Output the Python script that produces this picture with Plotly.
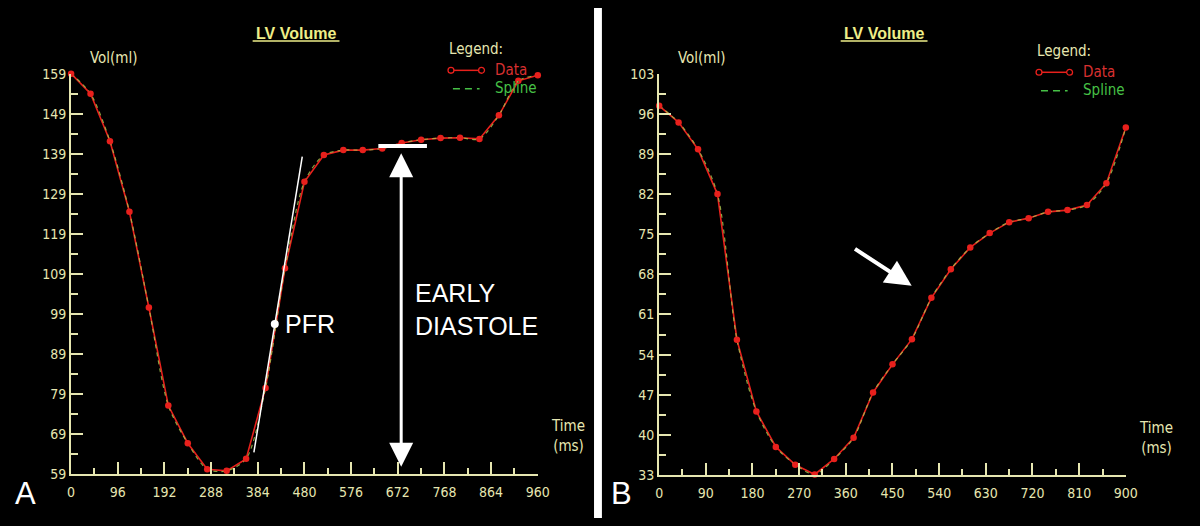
import re
import plotly.graph_objects as go

# ---------------- data ----------------
# Panel A
time_a = [0, 40, 80, 120, 160, 200, 240, 280, 320, 360, 400, 440, 480,
          520, 560, 600, 640, 680, 720, 760, 800, 840, 880, 920, 960]
vol_a = [159.0, 154.0, 142.1, 124.5, 100.6, 76.1, 66.7, 60.2, 59.8, 62.8,
         80.5, 110.4, 132.0, 138.7, 139.9, 139.9, 140.3, 141.7, 142.5, 142.9,
         143.0, 142.7, 148.6, 157.2, 158.6]
xticks_a = [0, 96, 192, 288, 384, 480, 576, 672, 768, 864, 960]
yticks_a = [59, 69, 79, 89, 99, 109, 119, 129, 139, 149, 159]

# Panel B
time_b = [0, 37.5, 75, 112.5, 150, 187.5, 225, 262.5, 300, 337.5, 375, 412.5,
          450, 487.5, 525, 562.5, 600, 637.5, 675, 712.5, 750, 787.5, 825,
          862.5, 900]
vol_b = [97.4, 94.5, 89.8, 82.0, 56.6, 44.1, 37.9, 34.8, 33.1, 35.8, 39.5,
         47.4, 52.3, 56.7, 63.9, 68.9, 72.7, 75.2, 77.1, 77.8, 78.9, 79.2,
         80.1, 83.9, 93.6]
xticks_b = [0, 90, 180, 270, 360, 450, 540, 630, 720, 810, 900]
yticks_b = [33, 40, 47, 54, 61, 68, 75, 82, 89, 96, 103]

# annotations (data coordinates)
pfr_line_t = [376, 475.5]
pfr_line_v = [64.4, 138.3]
pfr_point = (419, 96.5)
early_bar_t = [632, 732]
early_bar_v = 140.9
early_arrow_t = 679
early_arrow_v = [60.8, 139.5]
arrow_b_tail = (374.8, 72.6)
arrow_b_tip = (487, 66.0)

# ---------------- styling helpers ----------------
W, H = 1200, 526


def fx(p):
    return p / W


def fy(p):
    return 1 - p / H


AX = "#e6e6b0"
TITLE = "#eeee88"
RED = "#e8201c"
GREEN = "#46c046"
SPL = "#a8c850"
TICKFONT = dict(family="Liberation Sans Narrow, DejaVu Sans Condensed, sans-serif",
                size=14, color=AX)
LBLFONT = dict(family="Liberation Sans Narrow, DejaVu Sans Condensed, sans-serif",
               size=15, color=AX)
BIG = dict(family="Liberation Sans, Arial, sans-serif", size=25, color="white")

fig = go.Figure()

for t, v, xa, ya in [(time_a, vol_a, "x", "y"), (time_b, vol_b, "x2", "y2")]:
    fig.add_trace(go.Scatter(x=t, y=v, xaxis=xa, yaxis=ya, mode="lines",
                             line=dict(color=RED, width=1.6),
                             cliponaxis=False, showlegend=False))
    fig.add_trace(go.Scatter(x=t, y=v, xaxis=xa, yaxis=ya, mode="lines",
                             line=dict(color=SPL, width=1.2, dash="4px,4px",
                                       shape="spline", smoothing=0.8),
                             opacity=0.8, cliponaxis=False, showlegend=False))
    fig.add_trace(go.Scatter(x=t, y=v, xaxis=xa, yaxis=ya, mode="markers",
                             marker=dict(color=RED, size=6.5),
                             cliponaxis=False, showlegend=False))

# PFR tangent and point
fig.add_trace(go.Scatter(x=pfr_line_t, y=pfr_line_v, xaxis="x", yaxis="y",
                         mode="lines", line=dict(color="white", width=1.5),
                         showlegend=False))
fig.add_trace(go.Scatter(x=[pfr_point[0]], y=[pfr_point[1]], xaxis="x", yaxis="y",
                         mode="markers", marker=dict(color="white", size=8),
                         showlegend=False))
# early diastole bar
fig.add_trace(go.Scatter(x=early_bar_t, y=[early_bar_v, early_bar_v], xaxis="x",
                         yaxis="y", mode="lines", line=dict(color="white", width=4),
                         showlegend=False))


def axis_common():
    return dict(showline=True, linecolor=AX, linewidth=2, showgrid=False,
                zeroline=False, ticks="inside", tickcolor=AX, tickwidth=1.5,
                tickfont=TICKFONT, fixedrange=True)


xa = axis_common()
xa.update(domain=[fx(68), fx(541)], range=[0, 960], tickmode="linear", tick0=0,
          dtick=96, ticklen=12, anchor="y", ticklabelstandoff=4,
          minor=dict(ticks="inside", ticklen=6, tick0=0, dtick=48,
                     tickcolor=AX, tickwidth=1.5))
ya = axis_common()
ya.update(domain=[fy(480.7), fy(67.7)], range=[59, 159], tickmode="linear",
          tick0=59, dtick=10, ticklen=12, anchor="x",
          minor=dict(ticks="inside", ticklen=7, tick0=59, dtick=5,
                     tickcolor=AX, tickwidth=1.5))
xb = axis_common()
xb.update(domain=[fx(664), fx(1137)], range=[0, 900], tickmode="linear", tick0=0,
          dtick=90, ticklen=12, anchor="y2", ticklabelstandoff=4,
          minor=dict(ticks="inside", ticklen=6, tick0=0, dtick=45,
                     tickcolor=AX, tickwidth=1.5))
yb = axis_common()
yb.update(domain=[fy(481.7), fy(67.7)], range=[33, 103], tickmode="linear",
          tick0=33, dtick=7, ticklen=12, anchor="x2",
          minor=dict(ticks="inside", ticklen=7, tick0=33, dtick=3.5,
                     tickcolor=AX, tickwidth=1.5))

shapes = []
annotations = []

# white divider
shapes.append(dict(type="rect", xref="paper", yref="paper", x0=fx(598), x1=fx(606),
                   y0=0, y1=1, fillcolor="white", line=dict(width=0), layer="above"))

for off, title_c, time_x, time_y, legend_dy in [(0, 296, 572, 433, 0),
                                                 (596, 892, 1168, 435, 2)]:
    # title with underline
    annotations.append(dict(text="<b>LV Volume</b>", xref="paper", yref="paper",
                            x=fx(title_c), y=fy(26), showarrow=False,
                            xanchor="center", yanchor="middle",
                            font=dict(family="Liberation Sans, Arial, sans-serif",
                                      size=16, color=TITLE)))
    shapes.append(dict(type="line", xref="paper", yref="paper", x0=fx(title_c - 44),
                       x1=fx(title_c + 44), y0=fy(34), y1=fy(34),
                       line=dict(color=TITLE, width=1.5)))
    # legend
    annotations.append(dict(text="Legend:", xref="paper", yref="paper",
                            x=fx(449 + off), y=fy(42 + legend_dy), showarrow=False,
                            xanchor="left", yanchor="middle", font=LBLFONT))
    annotations.append(dict(text="Data", xref="paper", yref="paper",
                            x=fx(496 + off), y=fy(64 + legend_dy), showarrow=False,
                            xanchor="left", yanchor="middle",
                            font=dict(family=LBLFONT["family"], size=15, color="#d83030")))
    annotations.append(dict(text="Spline", xref="paper", yref="paper",
                            x=fx(496 + off), y=fy(83 + legend_dy), showarrow=False,
                            xanchor="left", yanchor="middle",
                            font=dict(family=LBLFONT["family"], size=15, color=GREEN)))
    ly = 64.3 + legend_dy
    shapes.append(dict(type="line", xref="paper", yref="paper", x0=fx(453 + off),
                       x1=fx(484 + off), y0=fy(ly), y1=fy(ly),
                       line=dict(color=RED, width=1.5)))
    for cx in (453 + off, 484 + off):
        shapes.append(dict(type="circle", xref="paper", yref="paper",
                           x0=fx(cx - 3), x1=fx(cx + 3), y0=fy(ly + 3), y1=fy(ly - 3),
                           line=dict(color=RED, width=1.3), fillcolor="black"))
    sy = 83.3 + legend_dy
    shapes.append(dict(type="line", xref="paper", yref="paper", x0=fx(455 + off),
                       x1=fx(482 + off), y0=fy(sy), y1=fy(sy),
                       line=dict(color=GREEN, width=1.5, dash="7px,5px")))
    # axis labels
    annotations.append(dict(text="Vol(ml)", xref="paper", yref="paper",
                            x=fx(85 + off), y=fy(52), showarrow=False,
                            xanchor="left", yanchor="middle", font=LBLFONT))
    annotations.append(dict(text="Time<br>(ms)", xref="paper", yref="paper",
                            x=fx(time_x), y=fy(time_y + 8), showarrow=False,
                            xanchor="center", yanchor="middle", font=LBLFONT))

# panel letters
annotations.append(dict(text="A", xref="paper", yref="paper", x=fx(22), y=fy(501),
                        showarrow=False, xanchor="center", yanchor="middle",
                        font=dict(family="Liberation Sans, Arial, sans-serif",
                                  size=31, color="white")))
annotations.append(dict(text="B", xref="paper", yref="paper", x=fx(626), y=fy(501),
                        showarrow=False, xanchor="center", yanchor="middle",
                        font=dict(family="Liberation Sans, Arial, sans-serif",
                                  size=31, color="white")))

# PFR label
annotations.append(dict(text="PFR", xref="x", yref="y", x=pfr_point[0], y=pfr_point[1],
                        xshift=8, showarrow=False, xanchor="left", yanchor="middle",
                        font=BIG))
# EARLY DIASTOLE
annotations.append(dict(text="EARLY<br>DIASTOLE", xref="paper", yref="paper",
                        x=fx(415), y=fy(311), showarrow=False, xanchor="left",
                        yanchor="middle", align="left", font=BIG))
# double arrow
annotations.append(dict(text="", xref="x", yref="y", axref="x", ayref="y",
                        x=early_arrow_t, y=early_arrow_v[0],
                        ax=early_arrow_t, ay=early_arrow_v[1],
                        showarrow=True, arrowhead=2, startarrowhead=2,
                        arrowside="end+start", arrowwidth=3, arrowsize=1.6,
                        startarrowsize=1.6, arrowcolor="white", standoff=0,
                        startstandoff=0))
# arrow in B
annotations.append(dict(text="", xref="x2", yref="y2", axref="x2", ayref="y2",
                        x=arrow_b_tip[0], y=arrow_b_tip[1],
                        ax=arrow_b_tail[0], ay=arrow_b_tail[1],
                        showarrow=True, arrowhead=2, arrowwidth=4, arrowsize=1.3,
                        arrowcolor="white", standoff=0))

fig.update_layout(width=W, height=H, margin=dict(l=0, r=0, t=0, b=0),
                  paper_bgcolor="black", plot_bgcolor="black",
                  xaxis=xa, yaxis=ya, xaxis2=xb, yaxis2=yb,
                  shapes=shapes, annotations=annotations, showlegend=False)

fig.write_html("out.html", config={"displayModeBar": False})

# pin the figure to the top-left corner of the window
STYLE = ("<style>html,body{margin:0!important;padding:0!important;background:#000;"
         "overflow:hidden;width:1200px;height:526px}"
         ".plotly-graph-div{position:fixed!important;left:0!important;top:0!important}"
         "</style>")
with open("out.html", "r", encoding="utf-8") as f:
    html = f.read()
m = re.search(r"<head[^>]*>", html)
if m and m.start() < 500:
    html = html[:m.end()] + STYLE + html[m.end():]
else:
    html = STYLE + html
with open("out.html", "w", encoding="utf-8") as f:
    f.write(html)
